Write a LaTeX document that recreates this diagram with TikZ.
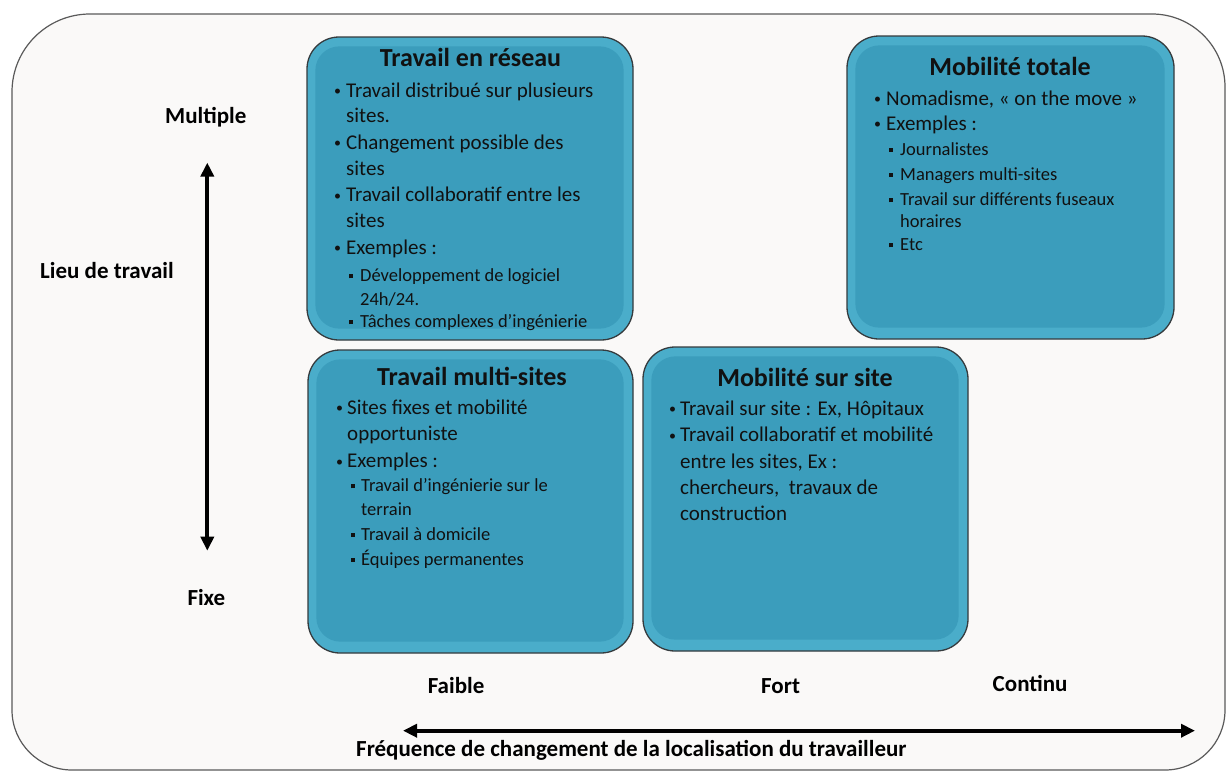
\documentclass[tikz,border=0pt]{standalone}
\usepackage{fontspec}
\setmainfont{Carlito}
\usetikzlibrary{arrows.meta}
\definecolor{framefill}{HTML}{FAF9F8}
\definecolor{framedraw}{HTML}{5A5A5A}
\definecolor{boxedge}{HTML}{4AADCA}
\definecolor{boxcore}{HTML}{3B9DBC}
\definecolor{boxline}{HTML}{353B3E}
\definecolor{ink}{HTML}{111111}
\newcommand{\dotb}[1]{\makebox[#1][l]{\raisebox{1.6pt}{\fontsize{14}{14}\selectfont•}}}
\newcommand{\sqb}[1]{\makebox[#1][l]{\rule[3.4pt]{4pt}{4pt}}}
\tikzset{
  box/.style={draw=boxline, line width=1.3pt, fill=boxedge, rounded corners=32pt, inner sep=0pt},
  core/.style={fill=boxcore, rounded corners=24pt},
  ttl/.style={anchor=base, inner sep=0pt, text=ink, font=\fontsize{26}{26}\selectfont\bfseries},
  lone/.style={anchor=base west, inner sep=0pt, text=ink, font=\fontsize{21}{21}\selectfont},
  ltwo/.style={anchor=base west, inner sep=0pt, text=ink, font=\fontsize{18.5}{18.5}\selectfont},
  axl/.style={anchor=base west, inner sep=0pt, text=black, font=\fontsize{23}{23}\selectfont\bfseries},
  dbl/.style={line width=4pt, {Triangle[width=13pt,length=14pt]}-{Triangle[width=13pt,length=14pt]}},
}
\begin{document}
\begin{tikzpicture}[x=1pt,y=-1pt]
\useasboundingbox (0,0) rectangle (1226,772);
\fill[white] (0,0) rectangle (1226,772);
% outer frame
\draw[draw=framedraw, fill=framefill, line width=1.2pt]
  (12,92) arc[start angle=180,end angle=270,radius=78] -- (1152,14)
  arc[start angle=270,end angle=360,radius=73] -- (1225,710)
  arc[start angle=0,end angle=90,radius=60] -- (72,770)
  arc[start angle=90,end angle=180,radius=60] -- cycle;

% boxes
\node[box, minimum width=326pt, minimum height=303pt] (b1) at (470,188.5) {};
\node[box, minimum width=327pt, minimum height=303pt] (b2) at (1010.5,187.5) {};
\node[box, minimum width=325pt, minimum height=303pt] (b3) at (470.5,501.5) {};
\node[box, minimum width=325pt, minimum height=304pt] (b4) at (805.5,499) {};
\foreach \b in {b1,b2,b3,b4}{
  \fill[core] ([shift={(9,10)}]\b.north west) rectangle ([shift={(-10,-12)}]\b.south east);
}

% box 1
\node[ttl] (t1) at (470.5,66) {Travail en réseau};
\node[lone] (t1a) at (334,97) {\dotb{12pt}Travail distribué sur plusieurs};
\node[lone] (t1b) at (346,122) {sites.};
\node[lone] (t1c) at (334,149) {\dotb{12pt}Changement possible des};
\node[lone] (t1d) at (346,175) {sites};
\node[lone] (t1e) at (334,201.7) {\dotb{12pt}Travail collaboratif entre les};
\node[lone] (t1f) at (346,227.7) {sites};
\node[lone] (t1g) at (334,254) {\dotb{12pt}Exemples :};
\node[ltwo] (t1h) at (349,281.7) {\sqb{11pt}Développement de logiciel};
\node[ltwo] (t1i) at (360,305) {24h/24.};
\node[ltwo] (t1j) at (349,327.7) {\sqb{11pt}Tâches complexes d’ingénierie};

% box 2
\node[ttl] (t2) at (1010,75) {Mobilité totale};
\node[lone] (t2a) at (874,105) {\dotb{12pt}Nomadisme, « on the move »};
\node[lone] (t2b) at (874,130) {\dotb{12pt}Exemples :};
\node[ltwo] (t2c) at (889,155) {\sqb{11pt}Journalistes};
\node[ltwo] (t2d) at (889,180) {\sqb{11pt}Managers multi-sites};
\node[ltwo] (t2e) at (889,205.7) {\sqb{11pt}Travail sur différents fuseaux};
\node[ltwo] (t2f) at (900,227.3) {horaires};
\node[ltwo] (t2g) at (889,250.7) {\sqb{11pt}Etc};

% box 3
\node[ttl] (t3) at (472,385) {Travail multi-sites};
\node[lone] (t3a) at (336,414) {\dotb{11pt}Sites fixes et mobilité};
\node[lone] (t3b) at (347,440) {opportuniste};
\node[lone] (t3c) at (336,467.7) {\dotb{11pt}Exemples :};
\node[ltwo] (t3d) at (351,491.7) {\sqb{10pt}Travail d’ingénierie sur le};
\node[ltwo] (t3e) at (361,515) {terrain};
\node[ltwo] (t3f) at (351,540) {\sqb{10pt}Travail à domicile};
\node[ltwo] (t3g) at (351,565) {\sqb{10pt}Équipes permanentes};

% box 4
\node[ttl] (t4) at (805,386.7) {Mobilité sur site};
\node[lone] (t4a) at (669,415) {\dotb{11pt}Travail sur site : Ex, Hôpitaux};
\node[lone] (t4b) at (669,441.7) {\dotb{11pt}Travail collaboratif et mobilité};
\node[lone] (t4c) at (680,468) {entre les sites, Ex :};
\node[lone] (t4d) at (680,494) {chercheurs,\ \ travaux de};
\node[lone] (t4e) at (680,520) {construction};

% axis labels
\node[axl] (multiple) at (165,123) {Multiple};
\node[axl] (lieu) at (40,278.3) {Lieu de travail};
\node[axl] (fixe) at (187.3,605) {Fixe};
\node[axl] (faible) at (427.6,693.3) {Faible};
\node[axl] (fort) at (761,693) {Fort};
\node[axl] (continu) at (992.5,691.7) {Continu};
\node[axl] (freq) at (356,756.7) {Fréquence de changement de la localisation du travailleur};

% axes
\coordinate (vtop) at (207.3,162.6);
\coordinate (vbot) at (207.3,550.7);
\coordinate (hleft) at (403,730.7);
\coordinate (hright) at (1195,730.7);
\draw[dbl] (vtop) -- (vbot);
\draw[dbl] (hleft) -- (hright);
\end{tikzpicture}
\end{document}
